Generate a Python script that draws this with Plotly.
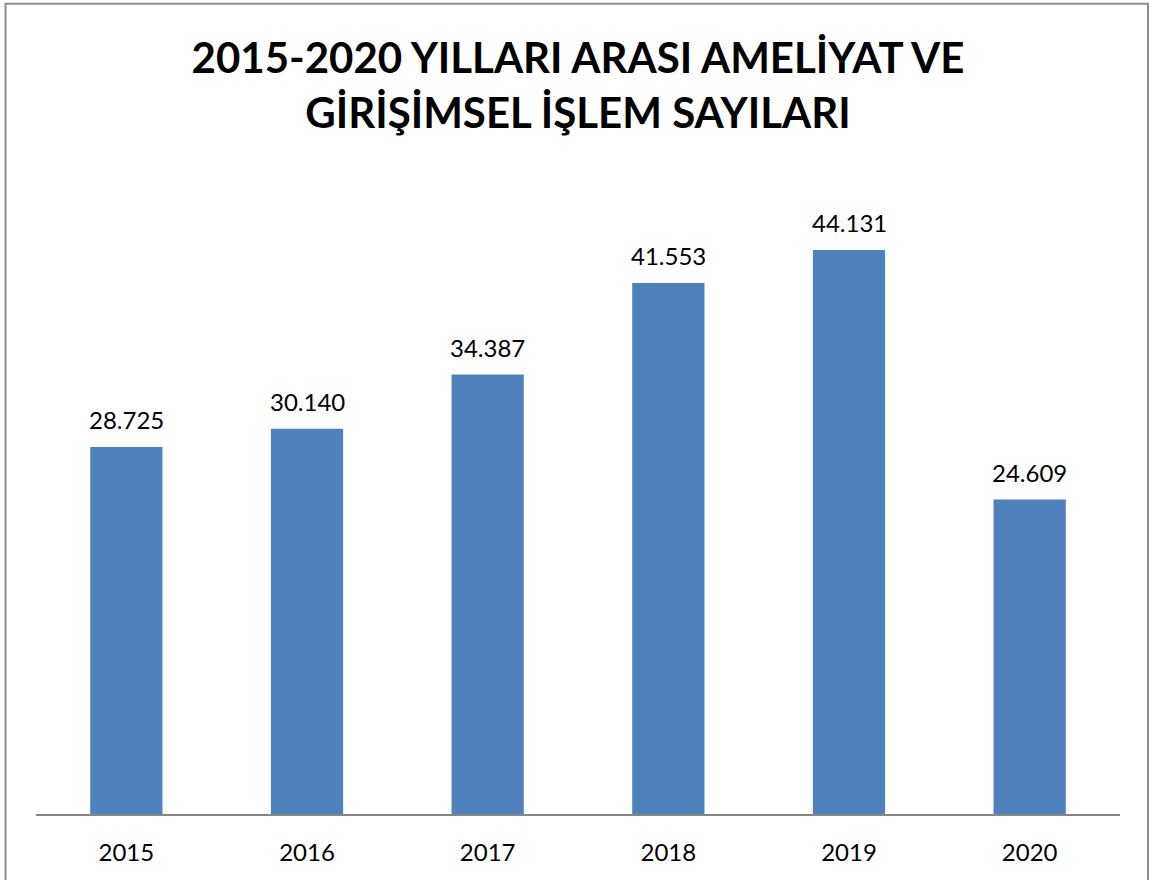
import plotly.graph_objects as go

years = ["2015", "2016", "2017", "2018", "2019", "2020"]
counts = [28725, 30140, 34387, 41553, 44131, 24609]
title_lines = ["2015-2020 YILLARI ARASI AMELİYAT VE", "GİRİŞİMSEL İŞLEM SAYILARI"]

W, H = 1153, 880
L, R, T, B = 36, 33, 175, 65.5
pw, ph = W - L - R, H - T - B

def px_x(p):
    return (p - L) / pw

def px_y(p):
    return (H - B - p) / ph

fig = go.Figure()
fig.add_trace(go.Bar(
    x=years, y=counts,
    marker=dict(color="#4F81BD", line=dict(width=0)),
    width=0.4,
    hoverinfo="skip",
))

annotations = []
for i, v in enumerate(counts):
    annotations.append(dict(
        x=i, y=v, xref="x", yref="y",
        text=f"{v:,}".replace(",", "."),
        showarrow=False, yanchor="bottom", yshift=11,
        font=dict(family="Lato", size=24, color="#000000"),
    ))

fig.update_layout(
    width=W, height=H,
    margin=dict(l=L, r=R, t=T, b=B, pad=0),
    paper_bgcolor="white", plot_bgcolor="white",
    showlegend=False,
    title=dict(
        text="<b>" + "<br>".join(title_lines) + "</b>",
        x=0.5, xanchor="center", xref="paper",
        y=1 - 73 / H, yanchor="middle", yref="container",
        font=dict(family="Lato", size=42, color="#000000"),
    ),
    xaxis=dict(
        type="category", range=[-0.5, len(years) - 0.5],
        showline=True, linecolor="#868686", linewidth=1.5,
        ticks="", showgrid=False, zeroline=False, ticklabelstandoff=16,
        tickfont=dict(family="Lato", size=24, color="#000000"),
    ),
    yaxis=dict(range=[0, 50000], visible=False, showgrid=False, zeroline=False),
    annotations=annotations,
    shapes=[dict(
        type="rect", xref="paper", yref="paper",
        x0=px_x(5.5), x1=px_x(1148), y0=px_y(905), y1=px_y(3.5),
        line=dict(color="#8c8c8c", width=2), fillcolor="rgba(0,0,0,0)",
        layer="above",
    )],
)

fig.write_html("out.html")
